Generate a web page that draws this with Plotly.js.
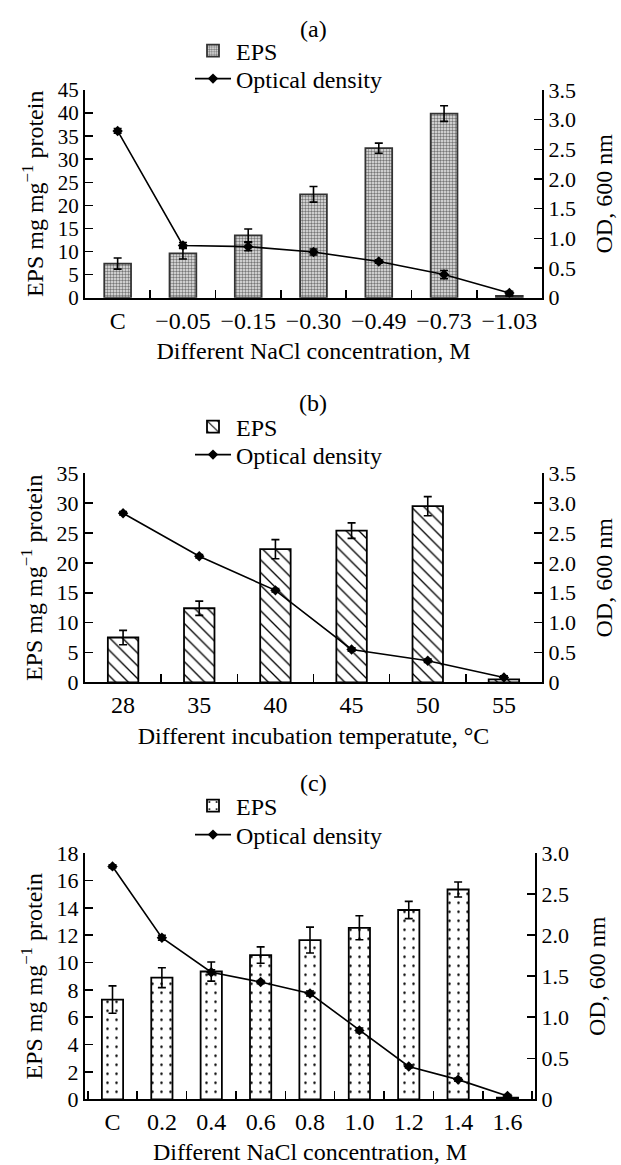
<!DOCTYPE html>
<html>
<head>
<meta charset="utf-8">
<script src="https://cdn.plot.ly/plotly-3.0.1.min.js"></script>
<style>html,body{margin:0;padding:0;background:#fff;}#chart{width:621px;height:1165px;}</style>
</head>
<body>
<div id="chart"></div>
<script>
// Panel (a): different NaCl concentration (water potential), M
const catsA = ['C', '\u22120.05', '\u22120.15', '\u22120.30', '\u22120.49', '\u22120.73', '\u22121.03'];
const epsA = [7.4, 9.6, 13.5, 22.4, 32.4, 39.9, 0.4];
const epsErrA = [1.2, 1.2, 1.4, 1.7, 1.1, 1.7, 0];
const odA = [2.81, 0.88, 0.86, 0.77, 0.61, 0.39, 0.08];
const odErrA = [0.04, 0.05, 0.07, 0.05, 0.03, 0.07, 0.03];

// Panel (b): different incubation temperature, °C
const catsB = ['28', '35', '40', '45', '50', '55'];
const epsB = [7.5, 12.4, 22.3, 25.4, 29.5, 0.5];
const epsErrB = [1.2, 1.2, 1.6, 1.3, 1.6, 0];
const odB = [2.83, 2.11, 1.54, 0.55, 0.36, 0.08];
const odErrB = [0.03, 0.03, 0.03, 0.03, 0.03, 0.03];

// Panel (c): different NaCl concentration, M
const catsC = ['C', '0.2', '0.4', '0.6', '0.8', '1.0', '1.2', '1.4', '1.6'];
const epsC = [7.3, 8.9, 9.35, 10.55, 11.65, 12.55, 13.85, 15.35, 0.12];
const epsErrC = [1.0, 0.73, 0.7, 0.6, 0.95, 0.88, 0.63, 0.55, 0];
const odC = [2.84, 1.97, 1.55, 1.43, 1.29, 0.84, 0.40, 0.24, 0.04];
const odErrC = [0.02, 0.03, 0.03, 0.02, 0.03, 0.03, 0.02, 0.02, 0.02];

const odTickVals = [0, 0.5, 1.0, 1.5, 2.0, 2.5, 3.0, 3.5];
const odTickText = ['0', '0.5', '1.0', '1.5', '2.0', '2.5', '3.0', '3.5'];

const FONT = 'Liberation Serif, Times New Roman, serif';
const FS = 24;
const FS_Y = 22;
const H = 1165, W = 621;
const py = v => 1 - v / H;   // pixel (from top) -> paper y
const px = v => v / W;

function barTrace(x, y, err, xa, ya, legend, pattern, lineColor, width) {
  return {
    type: 'bar', name: 'EPS', x: x, y: y, xaxis: xa, yaxis: ya, legend: legend,
    width: width,
    marker: { color: '#ffffff', line: { color: lineColor, width: 1.8 }, pattern: pattern },
    error_y: { type: 'data', array: err, visible: true, color: '#000', thickness: 1.6, width: 4 }
  };
}
function lineTrace(x, y, err, xa, ya, legend) {
  return {
    type: 'scatter', mode: 'lines+markers', name: 'Optical density', x: x, y: y,
    xaxis: xa, yaxis: ya, legend: legend,
    line: { color: '#000', width: 1.6 },
    marker: { symbol: 'diamond', size: 8, color: '#000' },
    error_y: { type: 'data', array: err, visible: true, color: '#000', thickness: 1.4, width: 4 }
  };
}

const data = [
  barTrace(catsA, epsA, epsErrA, 'x', 'y', 'legend',
    { shape: '.', size: 3, solidity: 0.5, fgcolor: '#777', bgcolor: '#ececec' }, '#333', 0.41),
  lineTrace(catsA, odA, odErrA, 'x', 'y2', 'legend2'),
  barTrace(catsB, epsB, epsErrB, 'x2', 'y3', 'legend3',
    { shape: '\\', size: 9, solidity: 0.15, fgcolor: '#000', bgcolor: '#fff' }, '#000', 0.40),
  lineTrace(catsB, odB, odErrB, 'x2', 'y4', 'legend4'),
  barTrace(catsC, epsC, epsErrC, 'x3', 'y5', 'legend5',
    { shape: '.', size: 9, solidity: 0.06, fgcolor: '#000', bgcolor: '#fff' }, '#000', 0.43),
  lineTrace(catsC, odC, odErrC, 'x3', 'y6', 'legend6')
];

const tickFont = { family: FONT, size: FS, color: '#000' };
const titleFont = { family: FONT, size: FS, color: '#000' };

function xAxis(domain, anchor, title) {
  return {
    domain: domain, anchor: anchor, type: 'category',
    showline: true, linecolor: '#000', linewidth: 2, mirror: false,
    ticks: 'inside', ticklen: 8, tickwidth: 1.6, tickcolor: '#000', tickson: 'boundaries',
    showgrid: false, zeroline: false, tickfont: tickFont,
    title: { text: title, font: titleFont, standoff: 10 }
  };
}
function yLeft(domain, anchor, range, dtick, fs) {
  return {
    domain: domain, anchor: anchor, range: range, dtick: dtick, tick0: 0,
    showline: true, linecolor: '#000', linewidth: 2,
    ticks: 'inside', ticklen: 8, tickwidth: 1.6, tickcolor: '#000',
    showgrid: false, zeroline: false,
    tickfont: { family: FONT, size: fs, color: '#000' },
    title: { text: 'EPS mg mg<sup>\u22121</sup> protein', font: titleFont, standoff: 7 }
  };
}
function yRight(overlay, anchor, range, n) {
  return {
    overlaying: overlay, anchor: anchor, side: 'right', range: range,
    tickvals: odTickVals.slice(0, n), ticktext: odTickText.slice(0, n),
    showline: true, linecolor: '#000', linewidth: 2,
    ticks: 'inside', ticklen: 8, tickwidth: 1.6, tickcolor: '#000',
    showgrid: false, zeroline: false,
    tickfont: { family: FONT, size: FS_Y, color: '#000' },
    title: { text: 'OD, 600 nm', font: titleFont, standoff: 20 }
  };
}
function legendAt(centerPx) {
  return {
    x: px(190), xanchor: 'left', y: py(centerPx), yanchor: 'middle',
    font: { family: FONT, size: FS, color: '#000' },
    bgcolor: 'rgba(0,0,0,0)', borderwidth: 0, itemwidth: 36,
    tracegroupgap: 0, orientation: 'v'
  };
}
function panelLabel(text, yPx) {
  return { text: text, x: px(313), y: py(yPx), xref: 'paper', yref: 'paper',
    xanchor: 'center', yanchor: 'middle', showarrow: false, font: titleFont };
}

const layout = {
  width: W, height: H,
  margin: { l: 0, r: 0, t: 0, b: 0 },
  paper_bgcolor: '#fff', plot_bgcolor: 'rgba(0,0,0,0)',
  showlegend: true, barmode: 'overlay',
  font: { family: FONT, size: FS, color: '#000' },
  xaxis: xAxis([px(85), px(542)], 'y', 'Different NaCl concentration, M'),
  yaxis: yLeft([py(297.7), py(90)], 'x', [0, 45], 5, 21),
  yaxis2: yRight('y', 'x', [0, 3.5], 8),
  xaxis2: xAxis([px(85), px(542)], 'y3', 'Different incubation temperatute, \u00B0C'),
  yaxis3: yLeft([py(682.3), py(473.3)], 'x2', [0, 35], 5, FS_Y),
  yaxis4: yRight('y3', 'x2', [0, 3.5], 8),
  xaxis3: xAxis([px(85), px(535)], 'y5', 'Different NaCl concentration, M'),
  yaxis5: yLeft([py(1099.3), py(853.3)], 'x3', [0, 18], 2, FS_Y),
  yaxis6: yRight('y5', 'x3', [0, 3.0], 7),
  legend: legendAt(51),
  legend2: legendAt(79),
  legend3: legendAt(427),
  legend4: legendAt(455),
  legend5: legendAt(806),
  legend6: legendAt(835),
  annotations: [
    panelLabel('(a)', 29),
    panelLabel('(b)', 403),
    panelLabel('(c)', 783)
  ]
};

Plotly.newPlot('chart', data, layout, { staticPlot: true, displayModeBar: false });
</script>
</body>
</html>
